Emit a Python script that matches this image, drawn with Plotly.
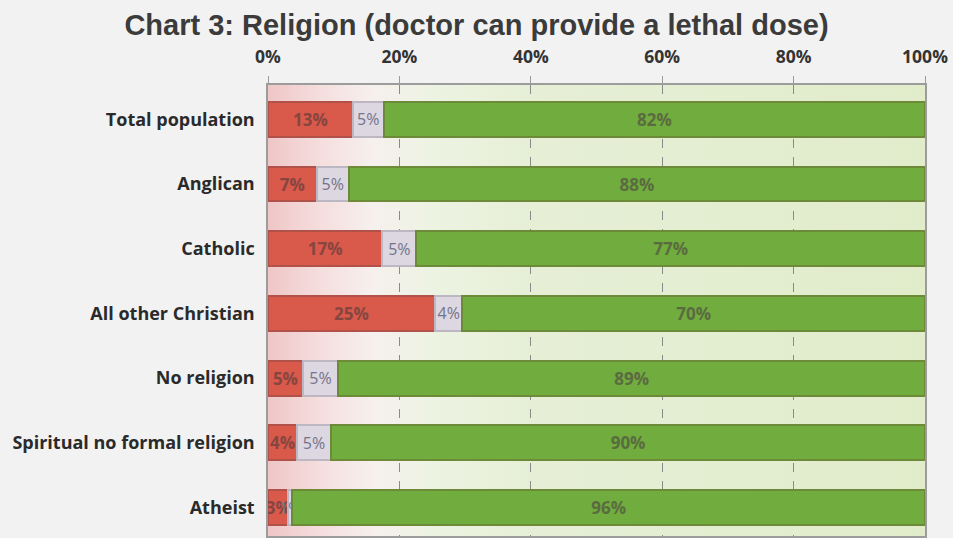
import base64
import plotly.graph_objects as go

categories = ["Total population", "Anglican", "Catholic", "All other Christian",
              "No religion", "Spiritual no formal religion", "Atheist"]
disagree = [12.9, 7.4, 17.4, 25.4, 5.3, 4.4, 3.1]
unsure = [4.7, 4.9, 5.2, 4.2, 5.4, 5.2, 0.6]
agree = [82.4, 87.7, 77.4, 70.4, 89.3, 90.4, 96.3]
tick_vals = [0, 20, 40, 60, 80, 100]
tick_text = ["0%", "20%", "40%", "60%", "80%", "100%"]

series = [
    ("Disagree", disagree, "#d9594b", "#b0524a", "#86463f", "bold", 17),
    ("Unsure", unsure, "#dcd7e1", "#bdb7c4", "#75738a", "normal", 16),
    ("Agree", agree, "#70ad3e", "#6c8a38", "#5b6b40", "bold", 17),
]

fig = go.Figure()
for name, vals, col, edge, tcol, weight, size in series:
    fig.add_trace(go.Bar(
        y=categories, x=vals, name=name, orientation="h",
        marker=dict(color=col, line=dict(color=edge, width=2)),
        texttemplate="%{x:.0f}%", textposition="inside", textangle=0,
        insidetextanchor="middle", constraintext="none",
        textfont=dict(family="Open Sans", size=size, color=tcol, weight=weight),
        showlegend=False,
    ))

svg = ('<svg xmlns="http://www.w3.org/2000/svg" width="200" height="10" preserveAspectRatio="none">'
       '<defs><linearGradient id="g" x1="0" y1="0" x2="1" y2="0">'
       '<stop offset="0" stop-color="#efc6c6"/>'
       '<stop offset="0.08" stop-color="#f5dede"/>'
       '<stop offset="0.16" stop-color="#f6f0ee"/>'
       '<stop offset="0.25" stop-color="#edf3e2"/>'
       '<stop offset="0.4" stop-color="#e6efd6"/>'
       '<stop offset="1" stop-color="#e1eccb"/>'
       '</linearGradient></defs>'
       '<rect width="200" height="10" fill="url(#g)"/></svg>')
src = "data:image/svg+xml;base64," + base64.b64encode(svg.encode()).decode()

fig.update_layout(
    barmode="stack",
    bargap=0.46,
    width=953, height=538,
    margin=dict(l=268, r=28, t=85, b=0),
    paper_bgcolor="#f2f2f2",
    plot_bgcolor="#e6efd6",
    title=dict(text="<b>Chart 3: Religion (doctor can provide a lethal dose)</b>",
               x=0.5, xanchor="center", y=0.953, yanchor="middle",
               font=dict(family="Liberation Sans", size=29, color="#3b3b3b")),
    images=[dict(source=src, xref="x", yref="paper", x=0, y=1, sizex=100, sizey=1,
                 xanchor="left", yanchor="top", sizing="stretch", layer="below")],
    xaxis=dict(side="top", range=[0, 100], tickvals=tick_vals, ticktext=tick_text,
               showgrid=True, gridcolor="#8a8a8a", griddash="dash", gridwidth=1,
               ticks="outside", ticklen=7, tickcolor="#9a9a9a", ticklabelstandoff=6,
               showline=True, linecolor="#9c9c9c", linewidth=1.5, mirror=True,
               tickfont=dict(family="Open Sans", size=17.5, color="#333333", weight="bold"),
               zeroline=False, fixedrange=True),
    yaxis=dict(range=[6.44, -0.53], showgrid=False,
               showline=True, linecolor="#9c9c9c", linewidth=1.5, mirror=True,
               ticks="", ticklabelstandoff=8, fixedrange=True,
               tickfont=dict(family="Open Sans", size=18, color="#2a2a2a", weight="bold")),
)

fig.write_html("out.html", config={"displayModeBar": False},
               post_script="document.body.style.margin='0';document.body.style.padding='0';")
